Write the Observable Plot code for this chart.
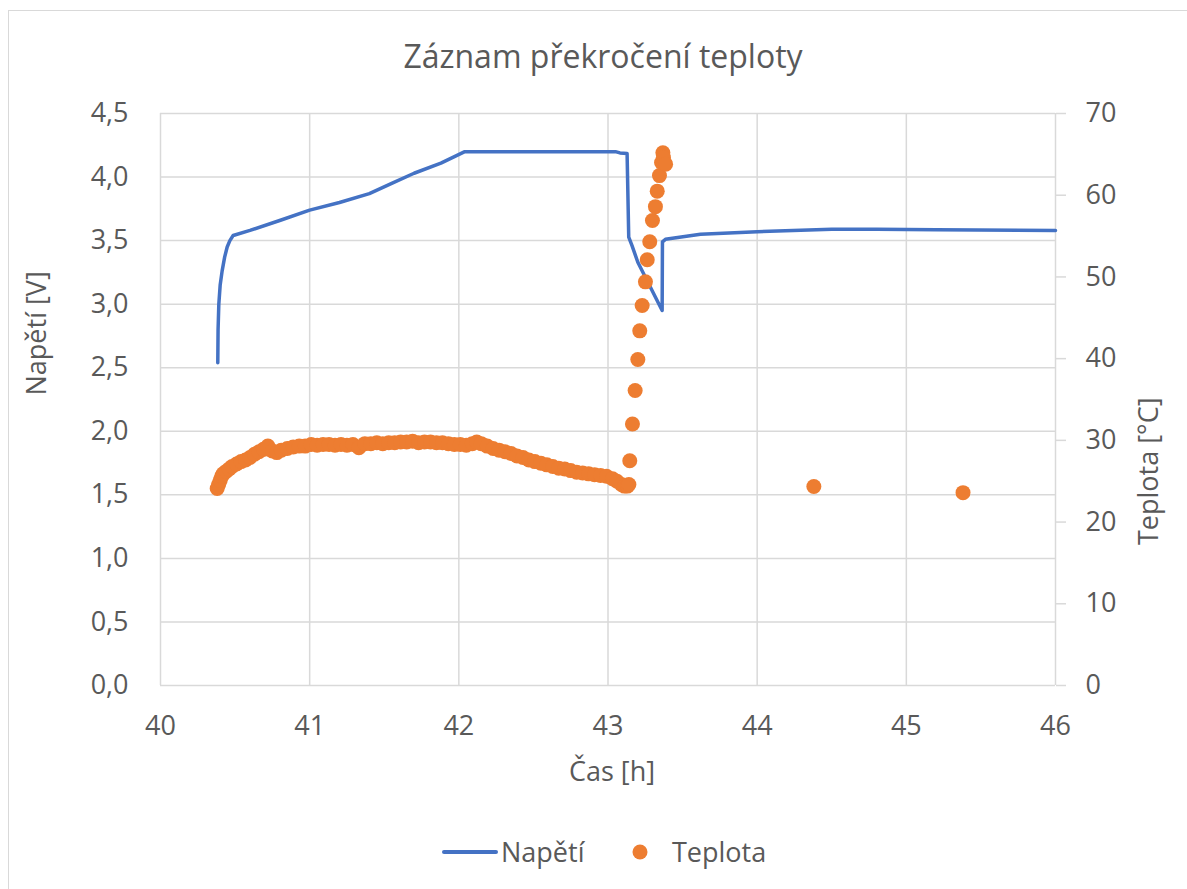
<!DOCTYPE html>
<html>
<head>
<meta charset="utf-8">
<script src="https://cdn.jsdelivr.net/npm/d3@7"></script>
<script src="https://cdn.jsdelivr.net/npm/@observablehq/plot@0.6"></script>
<style>
  html, body { margin: 0; padding: 0; background: #fff; }
  #wrap { position: relative; width: 1187px; height: 889px; overflow: hidden; font-family: "Open Sans", sans-serif; color: #595959; }
  #frame { position: absolute; left: 8px; top: 10px; width: 1200px; height: 900px; border: 1.5px solid #d9d9d9; box-sizing: border-box; }
  #chart { position: absolute; left: 0; top: 0; }
  #legend { position: absolute; left: 0; top: 832px; width: 1187px; height: 40px; }
  .lg { position: absolute; top: 0; font-size: 27px; line-height: 40px; color: #595959; }
</style>
</head>
<body>
<div id="wrap">
  <div id="frame"></div>
  <div id="chart"></div>
  <div id="legend">
    <svg class="lg" style="left:442px" width="56" height="40"><line x1="2" y1="20" x2="54" y2="20" stroke="#4472C4" stroke-width="4" stroke-linecap="round"/></svg>
    <span class="lg" style="left:501px">Napětí</span>
    <svg class="lg" style="left:630px" width="20" height="40"><circle cx="10" cy="20" r="7.5" fill="#ED7D31"/></svg>
    <span class="lg" style="left:672px">Teplota</span>
  </div>
</div>
<script>
// ---- Data ----
const title = "Záznam překročení teploty";
const xLabel = "Čas [h]";
const yLeftLabel = "Napětí [V]";
const yRightLabel = "Teplota [°C]";

const xTicks = [40, 41, 42, 43, 44, 45, 46];
const voltTicks = [0, 0.5, 1, 1.5, 2, 2.5, 3, 3.5, 4, 4.5];
const tempTicks = [0, 10, 20, 30, 40, 50, 60, 70];

// Napětí (voltage) series
const voltTime = [40.384, 40.386, 40.391, 40.400, 40.413, 40.430, 40.447, 40.465, 40.487, 40.60, 40.804, 41.00, 41.20, 41.40, 41.55, 41.70, 41.88, 42.04, 43.05, 43.08, 43.128, 43.139, 43.161, 43.20, 43.363, 43.365, 43.385, 43.62, 44.0, 44.5, 44.8, 45.2, 46.0];
const voltValue = [2.54, 2.80, 3.00, 3.15, 3.26, 3.37, 3.45, 3.50, 3.54, 3.58, 3.66, 3.74, 3.80, 3.87, 3.95, 4.03, 4.11, 4.20, 4.20, 4.19, 4.185, 3.527, 3.46, 3.33, 2.95, 3.49, 3.51, 3.55, 3.57, 3.59, 3.59, 3.585, 3.58];

// Teplota (temperature) series
const tempTime = [40.38, 40.39, 40.40, 40.41, 40.42, 40.44, 40.46, 40.48, 40.51, 40.54, 40.57, 40.60, 40.63, 40.66, 40.69, 40.72, 40.75, 40.78, 40.81, 40.85, 40.89, 40.93, 40.97, 41.01, 41.05, 41.09, 41.13, 41.17, 41.21, 41.25, 41.29, 41.33, 41.37, 41.41, 41.45, 41.49, 41.53, 41.57, 41.61, 41.65, 41.69, 41.73, 41.77, 41.81, 41.85, 41.89, 41.93, 41.97, 42.01, 42.05, 42.09, 42.12, 42.15, 42.19, 42.23, 42.27, 42.31, 42.35, 42.39, 42.43, 42.47, 42.51, 42.55, 42.59, 42.63, 42.67, 42.71, 42.75, 42.79, 42.83, 42.87, 42.91, 42.95, 42.99, 43.03, 43.06, 43.09, 43.11, 43.13, 43.14,
  43.146, 43.164, 43.182, 43.200, 43.213, 43.229, 43.251, 43.263, 43.280, 43.298, 43.318, 43.330, 43.345, 43.359, 43.368, 43.372, 43.386,
  44.38, 45.38];
const tempValue = [24.1, 24.6, 25.1, 25.6, 25.9, 26.2, 26.5, 26.8, 27.1, 27.4, 27.6, 27.9, 28.3, 28.6, 28.9, 29.3, 28.7, 28.5, 28.8, 29.0, 29.2, 29.3, 29.3, 29.5, 29.4, 29.5, 29.5, 29.4, 29.5, 29.4, 29.5, 29.1, 29.6, 29.6, 29.7, 29.6, 29.7, 29.7, 29.8, 29.8, 29.9, 29.7, 29.8, 29.8, 29.7, 29.7, 29.6, 29.5, 29.5, 29.4, 29.6, 29.8, 29.6, 29.3, 29.0, 28.8, 28.6, 28.4, 28.1, 27.9, 27.6, 27.4, 27.2, 27.0, 26.8, 26.6, 26.5, 26.3, 26.1, 26.0, 25.9, 25.8, 25.7, 25.6, 25.3, 25.0, 24.6, 24.4, 24.4, 24.6,
  27.5, 32.0, 36.1, 39.9, 43.4, 46.5, 49.4, 52.1, 54.3, 56.9, 58.6, 60.5, 62.4, 64.0, 65.2, 64.6, 63.8,
  24.35, 23.6];

// ---- Build ----
const tempMax = 70, voltMax = 4.5;
const k = voltMax / tempMax; // temperature -> voltage-axis units
const volt = voltTime.map((t, i) => ({t, v: voltValue[i]}));
const temp = tempTime.map((t, i) => ({t, T: tempValue[i]}));
const comma = d => d.toFixed(1).replace(".", ",");
const font = {fontFamily: "Open Sans, sans-serif", fontSize: "27px", color: "#595959", background: "transparent"};
const grid = "#d9d9d9";

const chart = Plot.plot({
  width: 1187,
  height: 889,
  marginLeft: 160,
  marginRight: 132,
  marginTop: 113,
  marginBottom: 204,
  style: font,
  x: {domain: [40, 46]},
  y: {domain: [0, voltMax]},
  marks: [
    Plot.gridY(voltTicks, {stroke: grid, strokeOpacity: 1, strokeWidth: 1.5}),
    Plot.gridX(xTicks, {stroke: grid, strokeOpacity: 1, strokeWidth: 1.5}),
    Plot.line(volt, {x: "t", y: "v", stroke: "#4472C4", strokeWidth: 3.5, strokeLinejoin: "round", strokeLinecap: "round"}),
    Plot.dot(temp, {x: "t", y: d => d.T * k, r: 7.5, fill: "#ED7D31", stroke: null}),
    Plot.axisX(xTicks, {tickSize: 0, tickPadding: 30, label: null, tickFormat: d => String(d)}),
    Plot.axisY(voltTicks, {anchor: "left", tickSize: 0, tickPadding: 32, label: null, tickFormat: comma}),
    Plot.axisY(tempTicks.map(t => t * k), {anchor: "right", tickSize: 10, tickPadding: 20, stroke: grid, strokeWidth: 1.5, label: null, tickFormat: d => String(Math.round(d / k))}),
    Plot.text([title], {frameAnchor: "top", lineAnchor: "middle", dy: -56, dx: -5, fontSize: 32, fill: "#595959"}),
    Plot.text([xLabel], {frameAnchor: "bottom", lineAnchor: "middle", dy: 87, dx: 4, fontSize: 27, fill: "#595959"}),
    Plot.text([yLeftLabel], {frameAnchor: "left", dx: -123, dy: -4, rotate: -90, fontSize: 27, fill: "#595959"}),
    Plot.text([yRightLabel], {frameAnchor: "right", dx: 94, dy: -2, rotate: -90, fontSize: 27, fill: "#595959"})
  ]
});
document.getElementById("chart").appendChild(chart);
</script>
</body>
</html>
